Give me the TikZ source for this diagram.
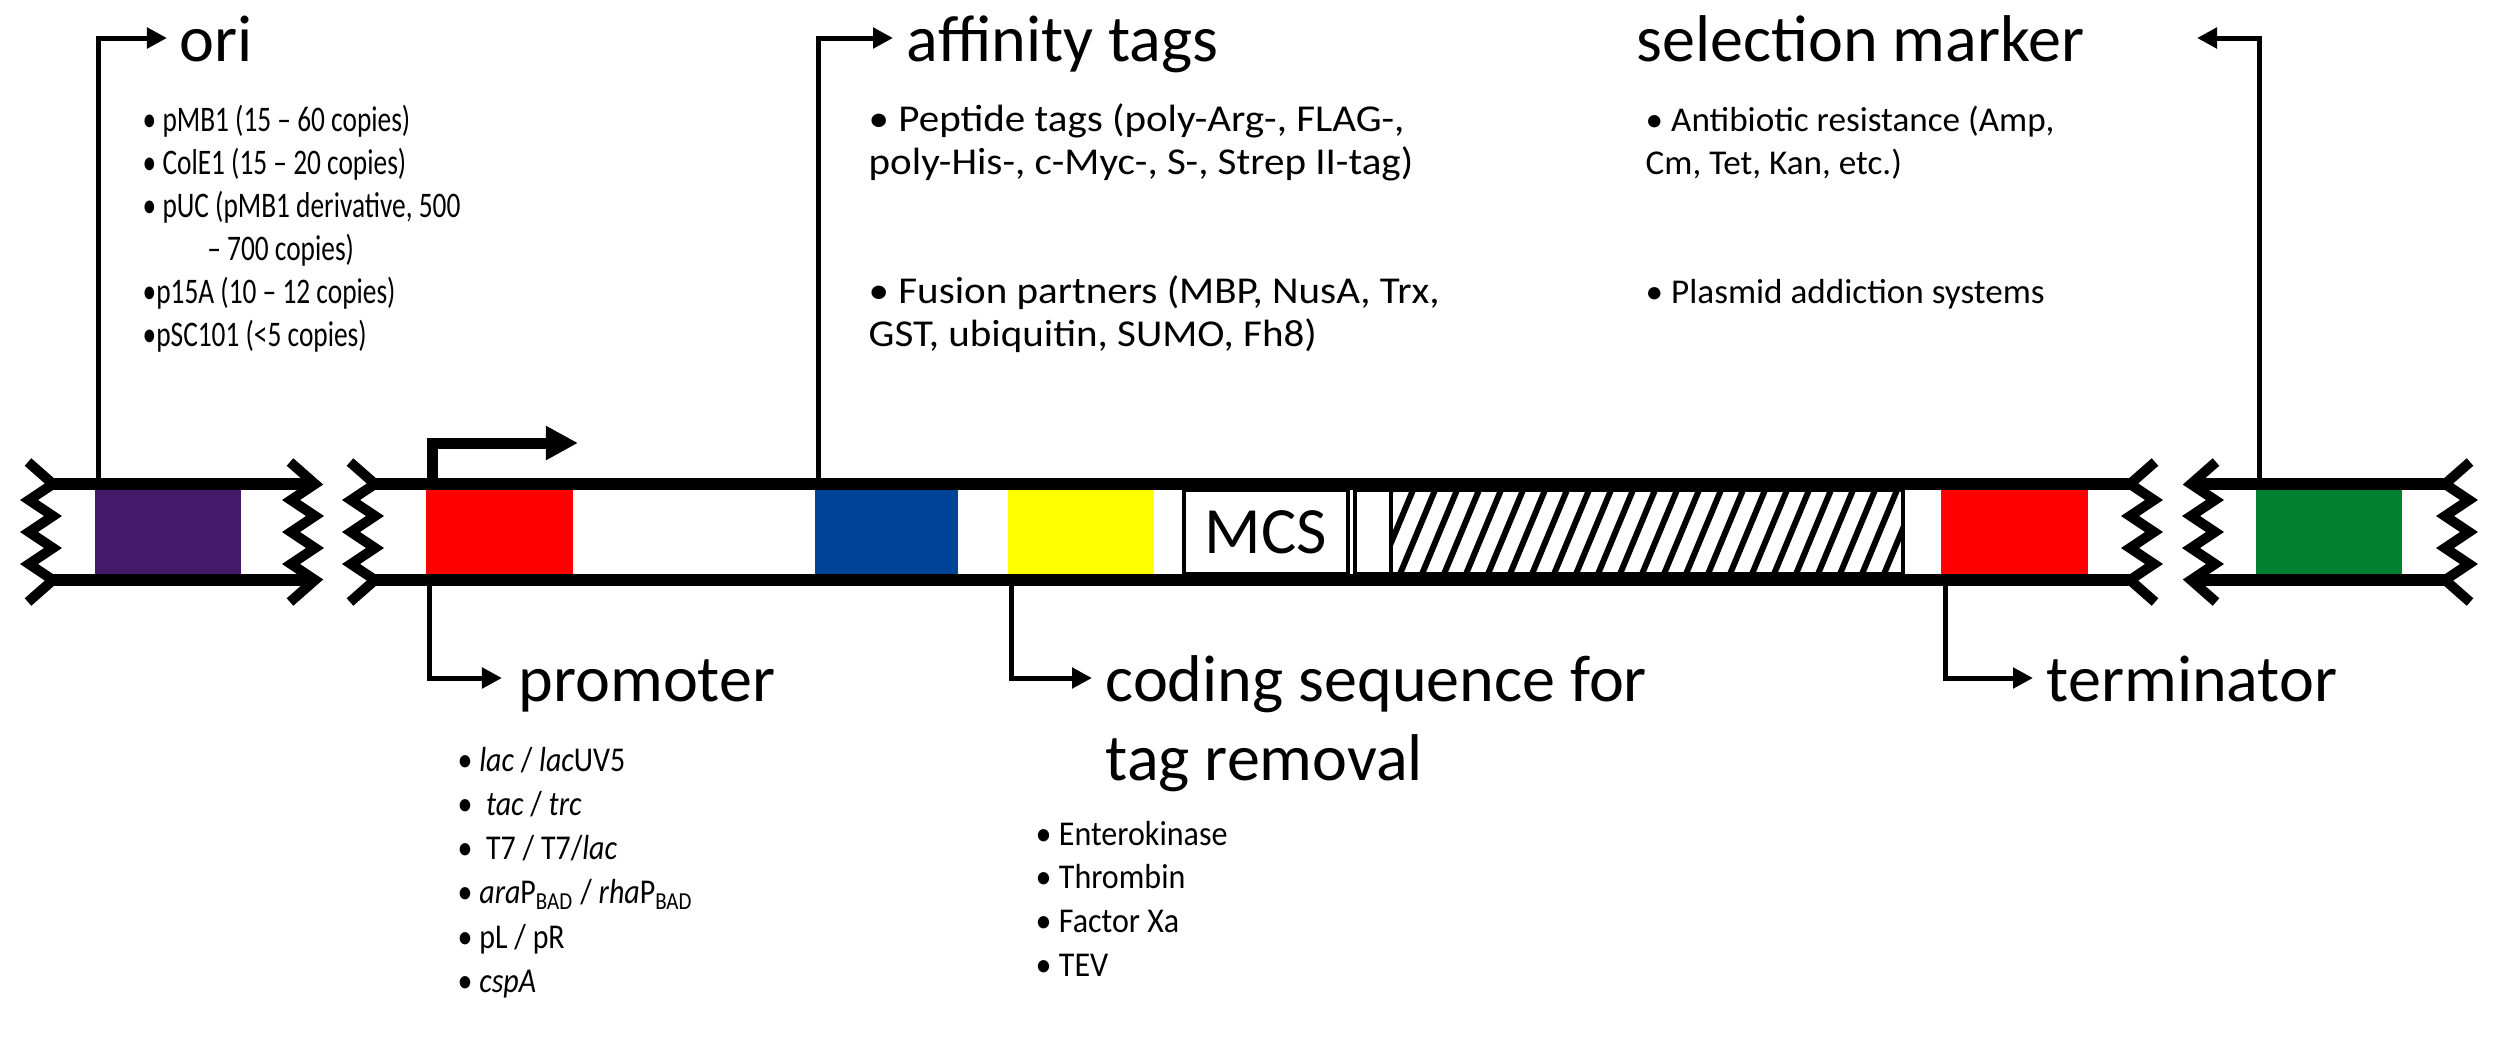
\documentclass[tikz,border=0pt]{standalone}
\usepackage{fontspec}
\setmainfont{Carlito}
\usepackage{graphicx}
\usetikzlibrary{arrows.meta}
\definecolor{oripurple}{RGB}{69,26,107}
\definecolor{tagblue}{RGB}{0,68,153}
\definecolor{markgreen}{RGB}{0,128,48}
\definecolor{pred}{RGB}{255,0,0}
\definecolor{cyellow}{RGB}{255,255,0}
\newcommand{\brkend}[2]{%
  \draw[zig] ({#1+(#2)*25},462) -- (#1,484) -- ({#1+(#2)*24},500) -- (#1,516) -- ({#1+(#2)*24},532) -- (#1,548) -- ({#1+(#2)*24},564) -- (#1,580) -- ({#1+(#2)*25},602);}
\newcommand{\myhlist}[2]{\scalebox{#1}[1]{\begin{tabular}[t]{@{}l@{}}#2\end{tabular}}}
\tikzset{
  strip/.style={line width=0.12cm},
  zig/.style={line width=0.1cm, line join=miter},
  conn/.style={line width=0.05cm, -{Triangle[length=0.2cm,width=0.2cm]}},
  blk/.style={inner sep=0, outer sep=0, minimum height=0.84cm, anchor=west},
  head/.style={inner sep=0, anchor=base west, font=\fontsize{18.8}{20.5}\selectfont},
  lst/.style 2 args={inner sep=0, anchor=base west, font=\fontsize{#1}{#2}\selectfont},
}
\begin{document}
\begin{tikzpicture}[x=0.01cm,y=-0.01cm]
\fill[white] (0,0) rectangle (2500,1063);
\useasboundingbox (0,0) rectangle (2500,1063);
% boxes
\node[blk, fill=oripurple, minimum width=1.46cm] (purple) at (95,532) {};
\node[blk, fill=pred, minimum width=1.47cm] (red1) at (426,532) {};
\node[blk, fill=tagblue, minimum width=1.43cm] (blue) at (815,532) {};
\node[blk, fill=cyellow, minimum width=1.46cm] (yellow) at (1008,532) {};
\node[blk, draw, line width=0.04cm, fill=white, minimum width=1.64cm, font=\fontsize{18.8}{20}\selectfont] (mcs) at (1184,532) {MCS};
\node[blk, draw, line width=0.04cm, minimum width=0.36cm] (gap) at (1355,532) {};
\node[blk, minimum width=5.12cm] (hatch) at (1391,532) {};
\begin{scope}
\clip (hatch.south west) rectangle (hatch.north east);
\foreach \i in {0,...,26} \draw[line width=0.06cm] ({1356+\i*22},574) -- ({1391+\i*22},490);
\end{scope}
\draw[line width=0.04cm] (hatch.south west) rectangle (hatch.north east);
\node[blk, fill=pred, minimum width=1.47cm] (red2) at (1941,532) {};
\node[blk, fill=markgreen, minimum width=1.46cm] (green) at (2256,532) {};
% arrow tip coordinates
\coordinate (oriT) at (167,38);
\coordinate (affT) at (893,38);
\coordinate (selT) at (2197,38);
\coordinate (proT) at (502,678);
\coordinate (codT) at (1092,678);
\coordinate (terT) at (2033,678);
\coordinate (promT) at (578,443);
% connectors
\draw[conn] ([xshift=0.03cm]purple.north west) |- (oriT);
\draw[conn] ([xshift=0.03cm]blue.north west) |- (affT);
\draw[conn] ([xshift=0.03cm]green.north west) |- (selT);
\draw[conn] ([xshift=0.03cm]red1.south west) |- (proT);
\draw[conn] ([xshift=0.03cm]yellow.south west) |- (codT);
\draw[conn] ([xshift=0.04cm]red2.south west) |- (terT);
\draw[line width=0.11cm, line join=miter, -{Triangle[length=0.32cm,width=0.32cm]}] ([xshift=0.06cm]red1.north west) |- (promT);
% strands
\draw[strip] (53,484) -- (312,484);
\draw[strip] (53,580) -- (312,580);
\draw[strip] (375,484) -- (2132,484);
\draw[strip] (375,580) -- (2132,580);
\draw[strip] (2193,484) -- (2447,484);
\draw[strip] (2193,580) -- (2447,580);
\brkend{53}{-1}
\brkend{315}{-1}
\brkend{375}{-1}
\brkend{2130}{1}
\brkend{2191}{1}
\brkend{2445}{1}
% headings
\node[head] (oriH) at (179,61) {ori};
\node[head] (affH) at (906,61) {affinity tags};
\node[head, anchor=base east] (selH) at (2085,61) {selection marker};
\node[head] (proH) at (518,701) {promoter};
\node[head, align=left] (codH) at (1105,701) {\begin{tabular}[t]{@{}l@{}}coding sequence for\\[2.1pt] tag removal\end{tabular}};
\node[head] (terH) at (2046,701) {terminator};
% lists
\node[lst={10.24}{12.23}] (oriL) at (142,131) {\myhlist{0.76}{%
• pMB1 (15 – 60 copies)\\
• ColE1 (15 – 20 copies)\\
• pUC (pMB1 derivative, 500\\
\hspace{0.85cm}– 700 copies)\\
•p15A (10 – 12 copies)\\
•pSC101 (<5 copies)}};
\node[lst={10.8}{12.23}] (affL) at (868,131) {\myhlist{1.08}{%
• Peptide tags (poly-Arg-, FLAG-,\\
poly-His-, c-Myc-, S-, Strep II-tag)\\
\\
\\
• Fusion partners (MBP, NusA, Trx,\\
GST, ubiquitin,  SUMO, Fh8)}};
\node[lst={9.9}{12.23}] (selL) at (1645,131) {\myhlist{1.01}{%
• Antibiotic resistance (Amp,\\
Cm, Tet, Kan, etc.)\\
\\
\\
• Plasmid addiction systems}};
\node[lst={9.9}{12.6}] (proL) at (457,771) {\myhlist{0.86}{%
• \textit{lac} / \textit{lac}UV5\\
•\ \ \textit{tac} / \textit{trc}\\
•\ \ T7 / T7/\textit{lac}\\
• \textit{ara}P\textsubscript{BAD} / \textit{rha}P\textsubscript{BAD}\\
• pL / pR\\
• \textit{cspA}}};
\node[lst={9.9}{12.5}] (codL) at (1035,845) {\myhlist{0.92}{%
• Enterokinase\\
• Thrombin\\
• Factor Xa\\
• TEV}};
\end{tikzpicture}
\end{document}
